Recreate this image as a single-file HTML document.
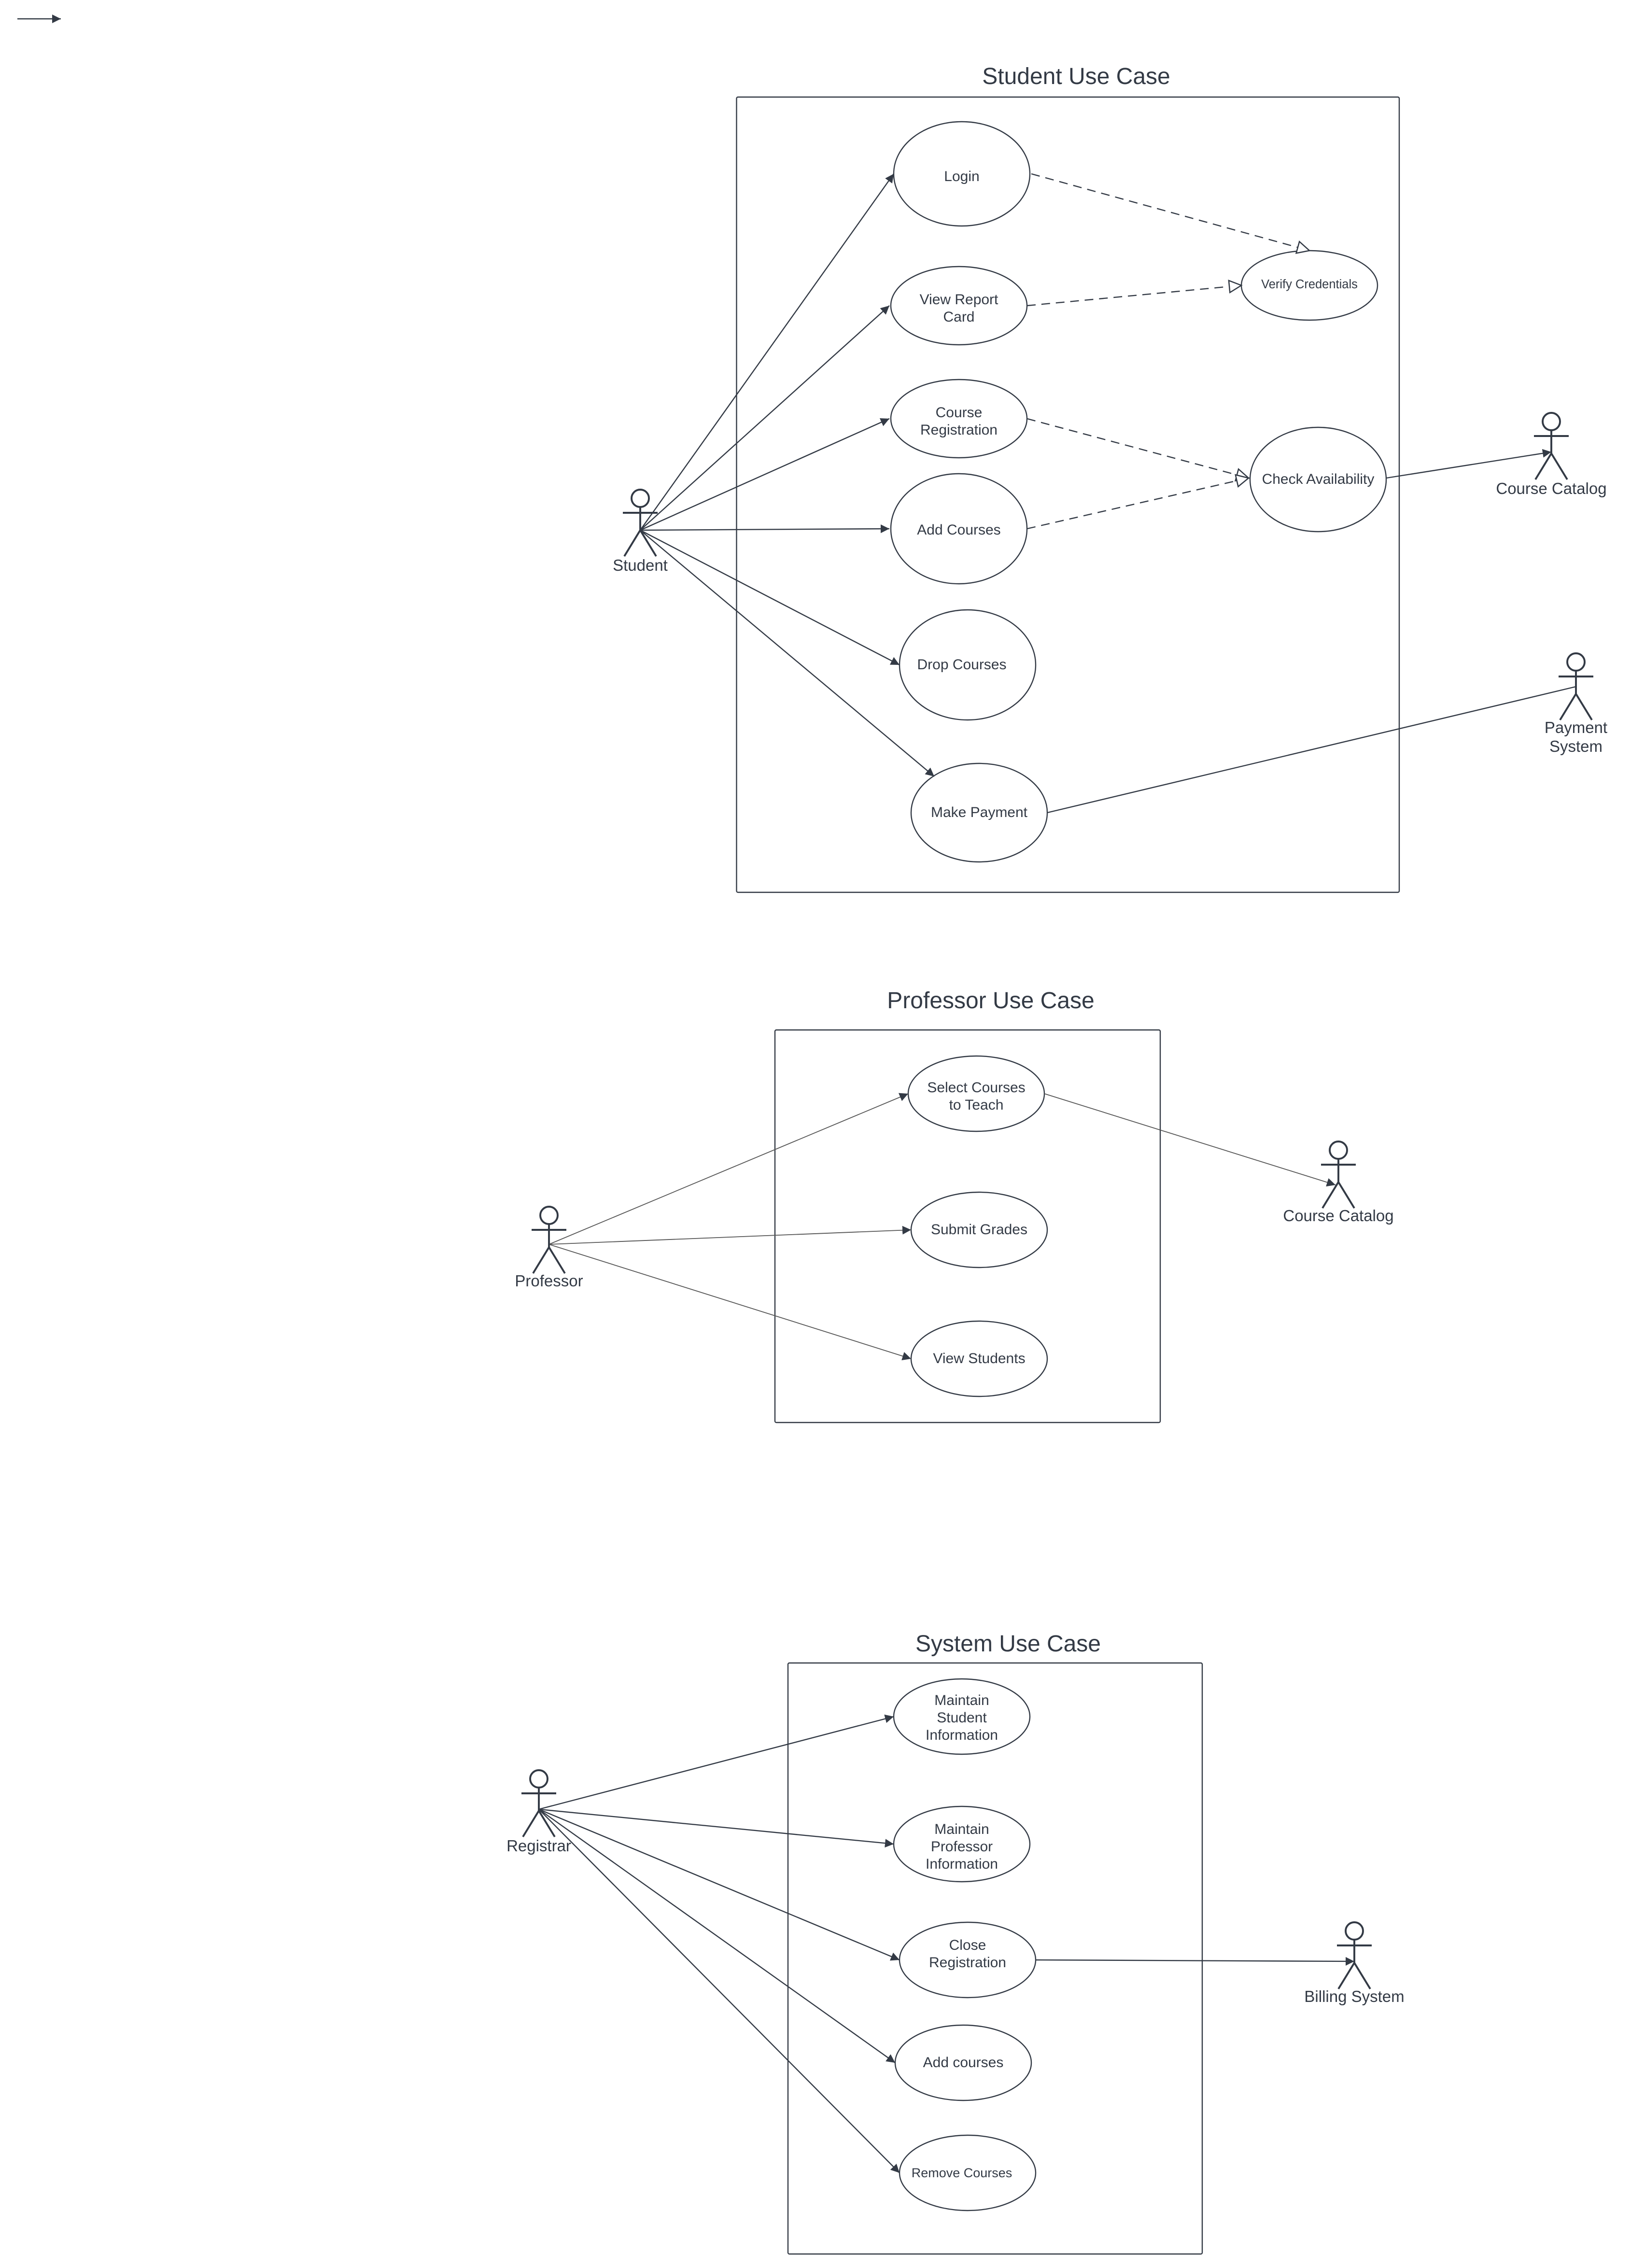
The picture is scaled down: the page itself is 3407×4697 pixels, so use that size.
<!DOCTYPE html>
<html><head><meta charset="utf-8"><style>
html,body{margin:0;padding:0;background:#fff;}
svg{display:block;}
text{font-family:"Liberation Sans",sans-serif;fill:#333a45;text-anchor:middle;}
</style></head><body>
<svg width="3407" height="4697" viewBox="0 0 1135.67 1565.67" preserveAspectRatio="none" xmlns="http://www.w3.org/2000/svg">
<defs>
<marker id="a" viewBox="0 0 10 10" refX="10" refY="5" markerWidth="6" markerHeight="6" markerUnits="userSpaceOnUse" orient="auto"><path d="M0,0 L10,5 L0,10 z" fill="#333a45"/></marker>
<marker id="h" viewBox="0 0 12 12" refX="11" refY="6" markerWidth="10" markerHeight="10" markerUnits="userSpaceOnUse" orient="auto"><path d="M1,1 L11,6 L1,11 z" fill="#fff" stroke="#333a45" stroke-width="1"/></marker>
<g id="actor" fill="none" stroke="#333a45" stroke-width="1.3">
<circle cx="0" cy="-22" r="6"/><line x1="0" y1="-16" x2="0" y2="0"/><line x1="-12" y1="-12" x2="12" y2="-12"/><line x1="0" y1="0" x2="-11" y2="18"/><line x1="0" y1="0" x2="11" y2="18"/>
</g>
</defs>
<g fill="none" stroke="#333a45" stroke-width="0.8">
<line x1="12" y1="13" x2="42" y2="13" marker-end="url(#a)"/>
<!-- Student -->
<rect x="508.5" y="67" width="457.5" height="549" rx="1"/>
<ellipse cx="664" cy="120" rx="47" ry="36"/>
<ellipse cx="662" cy="211" rx="47" ry="27"/>
<ellipse cx="662" cy="289" rx="47" ry="27"/>
<ellipse cx="662" cy="365" rx="47" ry="38"/>
<ellipse cx="668" cy="459" rx="47" ry="38"/>
<ellipse cx="676" cy="561" rx="47" ry="34"/>
<ellipse cx="904" cy="197" rx="47" ry="24"/>
<ellipse cx="910" cy="331" rx="47" ry="36"/>
<line x1="442" y1="366" x2="617" y2="120" marker-end="url(#a)"/>
<line x1="442" y1="366" x2="614" y2="211" marker-end="url(#a)"/>
<line x1="442" y1="366" x2="614" y2="289" marker-end="url(#a)"/>
<line x1="442" y1="366" x2="614" y2="365" marker-end="url(#a)"/>
<line x1="442" y1="366" x2="621" y2="459" marker-end="url(#a)"/>
<line x1="442" y1="366" x2="645" y2="536" marker-end="url(#a)"/>
<line x1="723" y1="561" x2="1088" y2="474"/>
<line x1="957" y1="330" x2="1071" y2="312" marker-end="url(#a)"/>
<g stroke-dasharray="6,4">
<line x1="712" y1="120" x2="904" y2="173" marker-end="url(#h)"/>
<line x1="709" y1="211" x2="857" y2="197" marker-end="url(#h)"/>
<line x1="709" y1="289" x2="862" y2="330" marker-end="url(#h)"/>
<line x1="709" y1="365" x2="862" y2="330" marker-end="url(#h)"/>
</g>
<!-- Professor -->
<rect x="535" y="711" width="266" height="271" rx="1"/>
<ellipse cx="674" cy="755" rx="47" ry="26"/>
<ellipse cx="676" cy="849" rx="47" ry="26"/>
<ellipse cx="676" cy="938" rx="47" ry="26"/>
<g stroke="#555" stroke-width="0.6">
<line x1="379" y1="859" x2="627" y2="755" marker-end="url(#a)"/>
<line x1="379" y1="859" x2="629" y2="849" marker-end="url(#a)"/>
<line x1="379" y1="859" x2="629" y2="938" marker-end="url(#a)"/>
<line x1="721" y1="755" x2="922" y2="818" marker-end="url(#a)"/>
</g>
<!-- System -->
<rect x="544" y="1148" width="286" height="408" rx="1"/>
<ellipse cx="664" cy="1185" rx="47" ry="26"/>
<ellipse cx="664" cy="1273" rx="47" ry="26"/>
<ellipse cx="668" cy="1353" rx="47" ry="26"/>
<ellipse cx="665" cy="1424" rx="47" ry="26"/>
<ellipse cx="668" cy="1500" rx="47" ry="26"/>
<line x1="372" y1="1249" x2="617" y2="1185" marker-end="url(#a)"/>
<line x1="372" y1="1249" x2="617" y2="1273" marker-end="url(#a)"/>
<line x1="372" y1="1249" x2="621" y2="1353" marker-end="url(#a)"/>
<line x1="372" y1="1249" x2="618" y2="1424" marker-end="url(#a)"/>
<line x1="372" y1="1249" x2="621" y2="1500" marker-end="url(#a)"/>
<line x1="715" y1="1353" x2="935" y2="1354" marker-end="url(#a)"/>
</g>
<use href="#actor" x="442" y="366"/>
<use href="#actor" x="1071" y="313"/>
<use href="#actor" x="1088" y="479"/>
<use href="#actor" x="379" y="861"/>
<use href="#actor" x="924" y="816"/>
<use href="#actor" x="372" y="1250"/>
<use href="#actor" x="935" y="1355"/>
<g font-size="10">
<text x="743" y="58" font-size="16">Student Use Case</text>
<text x="664" y="125">Login</text>
<text x="662" y="210">View  Report</text><text x="662" y="222">Card</text>
<text x="662" y="288">Course</text><text x="662" y="300">Registration</text>
<text x="662" y="369">Add Courses</text>
<text x="664" y="462">Drop Courses</text>
<text x="676" y="564">Make Payment</text>
<text x="904" y="199" font-size="8.5">Verify Credentials</text>
<text x="910" y="334">Check Availability</text>
<text x="442" y="394" font-size="11">Student</text>
<text x="1071" y="341" font-size="11">Course Catalog</text>
<text x="1088" y="506" font-size="11">Payment</text><text x="1088" y="519" font-size="11">System</text>
<text x="684" y="696" font-size="16">Professor Use Case</text>
<text x="674" y="754">Select Courses</text><text x="674" y="766">to Teach</text>
<text x="676" y="852">Submit Grades</text>
<text x="676" y="941">View Students</text>
<text x="379" y="888" font-size="11">Professor</text>
<text x="924" y="843" font-size="11">Course Catalog</text>
<text x="696" y="1140" font-size="16">System Use Case</text>
<text x="664" y="1177">Maintain</text><text x="664" y="1189">Student</text><text x="664" y="1201">Information</text>
<text x="664" y="1266">Maintain</text><text x="664" y="1278">Professor</text><text x="664" y="1290">Information</text>
<text x="668" y="1346">Close</text><text x="668" y="1358">Registration</text>
<text x="665" y="1427">Add courses</text>
<text x="664" y="1503" font-size="9">Remove Courses</text>
<text x="372" y="1278" font-size="11">Registrar</text>
<text x="935" y="1382" font-size="11">Billing System</text>
</g>
</svg>
</body></html>
